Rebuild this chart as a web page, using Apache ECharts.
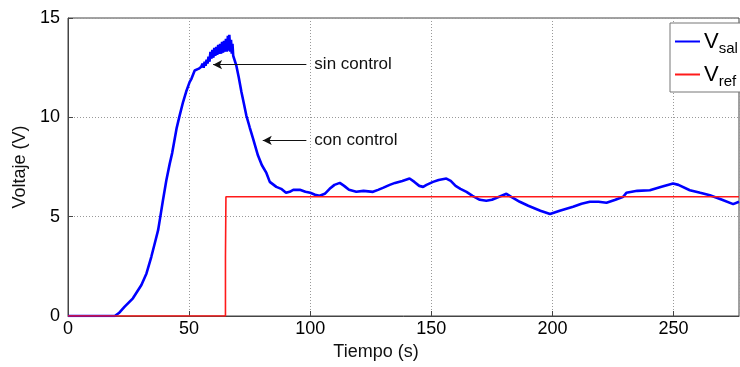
<!DOCTYPE html>
<html><head><meta charset="utf-8">
<script src="https://cdn.jsdelivr.net/npm/echarts@6/dist/echarts.min.js"></script>
<style>html,body{margin:0;padding:0;background:#fff}#c{width:740px;height:367px}</style>
</head><body><div id="c"></div>
<script>
const xTicks = [0, 50, 100, 150, 200, 250];
const yTicks = [0, 5, 10, 15];
const vsalT = [0, 19.3, 21, 23.4, 26.8, 30.3, 32.4, 34.4, 35.8, 37.2, 38.1, 39.2, 40.6, 42, 43, 44.8, 46.1, 47.5, 48.8, 50.2, 51, 52.3, 53, 54, 55,
  55.6, 56.0, 56.4, 56.8, 57.2, 57.6, 58.0, 58.4, 58.8, 59.2, 59.6, 60.0, 60.4, 60.8, 61.2, 61.6, 62.0, 62.4, 62.8, 63.2, 63.6, 64.0, 64.4, 64.8, 65.2, 65.6, 66.0, 66.4, 66.6, 67.0, 67.3, 67.6, 67.9, 68.2,
  68.6, 69.5, 70.5, 71.6, 72.6, 73.6, 75, 76.4, 78.4, 80, 81.9, 83.3, 86, 88, 90, 91.5, 93, 95.7, 98, 100, 102, 103.9, 106, 108, 110, 112.2, 114, 116, 119, 122, 125.9, 128, 130, 132.8, 135, 138, 141, 143, 145, 146.6, 148, 150.7, 153, 156.2, 158, 160, 162, 164.5, 167, 170, 172.7, 175, 178, 181, 183, 186.5, 190, 195, 199, 203, 208.5, 212, 215.4, 219, 222.3, 226, 229.2, 230.5, 235, 240.2, 245, 249.8, 252, 256.7, 261, 265, 270, 274.6, 277];
const vsalV = [0, 0, 0.15, 0.47, 0.89, 1.56, 2.14, 2.98, 3.65, 4.32, 4.99, 5.83, 6.83, 7.67, 8.2, 9.43, 10.1, 10.77, 11.3, 11.77, 11.95, 12.36, 12.35, 12.45, 12.55,
  12.7, 12.5, 12.8, 12.6, 12.9, 12.7, 13.05, 12.8, 13.3, 12.95, 13.4, 13.0, 13.5, 13.1, 13.55, 13.15, 13.65, 13.2, 13.7, 13.2, 13.8, 13.25, 13.85, 13.3, 13.95, 13.3, 14.1, 13.35, 14.15, 13.3, 13.9, 13.2, 13.7, 13.1,
  13.0, 12.6, 12.0, 11.27, 10.7, 10.1, 9.5, 8.93, 8.09, 7.6, 7.2, 6.75, 6.5, 6.4, 6.2, 6.25, 6.35, 6.35, 6.25, 6.2, 6.1, 6.05, 6.15, 6.4, 6.6, 6.7, 6.55, 6.35, 6.25, 6.3, 6.25, 6.35, 6.45, 6.6, 6.7, 6.8, 6.92, 6.75, 6.55, 6.5, 6.6, 6.75, 6.85, 6.92, 6.8, 6.55, 6.4, 6.25, 6.05, 5.85, 5.8, 5.85, 6.0, 6.15, 6.0, 5.75, 5.55, 5.3, 5.13, 5.3, 5.5, 5.65, 5.75, 5.75, 5.7, 5.85, 6.0, 6.2, 6.3, 6.33, 6.5, 6.67, 6.6, 6.33, 6.2, 6.08, 5.85, 5.63, 5.75];
const vrefT = [0, 65, 65, 65.2, 277];
const vrefV = [0, 0, 3, 6, 6];
const notes = [
  {text: 'sin control', from: [98.4, 12.65], to: [59.9, 12.65]},
  {text: 'con control', from: [98.4, 8.84], to: [80.4, 8.84]}
];
const font = '"Liberation Sans", Arial, sans-serif';
const chart = echarts.init(document.getElementById('c'), null, {renderer: 'canvas'});
chart.setOption({
  animation: false,
  backgroundColor: '#fff',
  grid: {left: 68, right: 1, top: 18, bottom: 51, show: true, borderColor: '#444', borderWidth: 1, backgroundColor: 'transparent'},
  xAxis: {
    type: 'value', min: 0, max: 277, interval: 50,
    name: 'Tiempo (s)', nameLocation: 'middle', nameGap: 26,
    nameTextStyle: {fontFamily: font, fontSize: 18, color: '#111', padding: [0, 55, 0, 0]},
    axisLine: {show: true, lineStyle: {color: '#444'}},
    axisTick: {show: true, inside: true, length: 5, lineStyle: {color: '#444'}},
    axisLabel: {fontFamily: font, fontSize: 18, color: '#000', margin: 4,
      formatter: v => xTicks.includes(v) ? String(v) : '', showMaxLabel: false},
    splitLine: {show: true, lineStyle: {type: [1, 2], color: '#999'}}
  },
  yAxis: {
    type: 'value', min: 0, max: 15, interval: 5,
    name: 'Voltaje (V)', nameLocation: 'middle', nameGap: 37,
    nameTextStyle: {fontFamily: font, fontSize: 18, color: '#111'},
    axisLine: {show: true, lineStyle: {color: '#444'}},
    axisTick: {show: true, inside: true, length: 5, lineStyle: {color: '#444'}},
    axisLabel: {fontFamily: font, fontSize: 18, color: '#000', margin: 8,
      formatter: v => yTicks.includes(v) ? String(v) : ''},
    splitLine: {show: true, lineStyle: {type: [1, 2], color: '#999'}}
  },
  legend: {
    left: 670, top: 23, orient: 'vertical',
    backgroundColor: '#fff', borderColor: '#777', borderWidth: 1,
    padding: [4, 20, 3, 5], itemGap: 4,
    itemWidth: 25, itemHeight: 2, icon: 'rect',
    data: ['Vsal', 'Vref'],
    formatter: n => '{v|V}{s|' + n.slice(1) + '}',
    textStyle: {
      fontFamily: font, color: '#000', padding: [0, 0, 0, -1],
      rich: {
        v: {fontSize: 22, fontFamily: font, color: '#000', lineHeight: 29},
        s: {fontSize: 15, fontFamily: font, color: '#000', padding: [14, 0, 0, 0], lineHeight: 29}
      }
    }
  },
  series: [
    {
      name: 'Vsal', type: 'line', symbol: 'none', showSymbol: false,
      data: vsalT.map((t, i) => [t, vsalV[i]]),
      lineStyle: {color: '#0000ff', width: 2.6}, itemStyle: {color: '#0000ff'},
      markLine: {
        silent: true, animation: false,
        symbol: ['none', 'arrow'], symbolSize: [7, 9],
        lineStyle: {color: '#111', width: 1, type: 'solid'},
        label: {show: true, position: 'start', distance: 8, fontFamily: font, fontSize: 17, color: '#111',
          formatter: p => p.name},
        data: notes.map(n => [{name: n.text, coord: n.from}, {coord: n.to}])
      }
    },
    {
      name: 'Vref', type: 'line', symbol: 'none', showSymbol: false,
      data: vrefT.map((t, i) => [t, vrefV[i]]),
      lineStyle: {color: '#ff1a1a', width: 1.6}, itemStyle: {color: '#ff1a1a'}
    }
  ]
});
</script></body></html>
